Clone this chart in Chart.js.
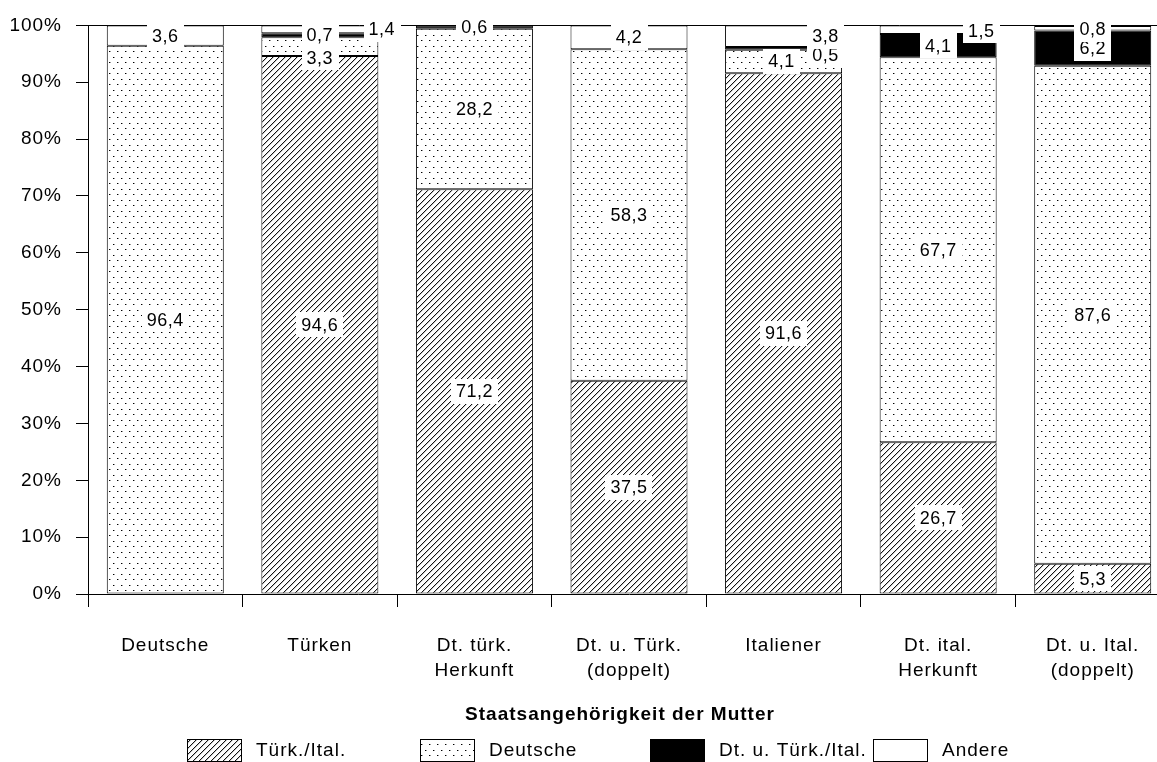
<!DOCTYPE html>
<html>
<head>
<meta charset="utf-8">
<script src="https://cdn.jsdelivr.net/npm/chart.js@4.4.0/dist/chart.umd.min.js"></script>
<style>
html,body{margin:0;padding:0;overflow:hidden;background:#fff;}
#wrap{width:1172px;height:762px;}
</style>
</head>
<body>
<div id="wrap"><canvas id="c" width="1172" height="762"></canvas></div>
<script>
// ---- data ----
const categories = [["Deutsche"],["Türken"],["Dt. türk.","Herkunft"],["Dt. u. Türk.","(doppelt)"],["Italiener"],["Dt. ital.","Herkunft"],["Dt. u. Ital.","(doppelt)"]];
const seriesNames = ["Türk./Ital.","Deutsche","Dt. u. Türk./Ital.","Andere"];
const turkItal = [0, 94.6, 71.2, 37.5, 91.6, 26.7, 5.3];
const deutsche = [96.4, 3.3, 28.2, 58.3, 4.1, 67.7, 87.6];
const dtUTurkItal = [0, 0.7, 0.6, 0, 0.5, 4.1, 6.2];
const andere = [3.6, 1.4, 0, 4.2, 3.8, 1.5, 0.8];
const yTickValues = [0,10,20,30,40,50,60,70,80,90,100];
const axisTitle = "Staatsangehörigkeit der Mutter";

// ---- styling ----
const FONT = "'Liberation Sans', Arial, sans-serif";
const canvas = document.getElementById('c');
const ctx = canvas.getContext('2d');

function hatchPattern(){
  const n=6;
  const t=document.createElement('canvas'); t.width=n; t.height=n;
  const g=t.getContext('2d');
  g.fillStyle='#fff'; g.fillRect(0,0,n,n);
  for(let k=0;k<n;k++){
    g.fillStyle='#111';
    g.fillRect(k,n-1-k,1,1);
    g.fillStyle='#c8c8c8';
    g.fillRect((k+1)%n,n-1-k,1,1);
  }
  return ctx.createPattern(t,'repeat');
}
function dotPattern(){
  const t=document.createElement('canvas'); t.width=8; t.height=11;
  const g=t.getContext('2d');
  g.fillStyle='#fff'; g.fillRect(0,0,8,11);
  g.fillStyle='#000';
  g.fillRect(1,2,1,1);
  g.fillRect(5,7,1,1);
  g.fillStyle='#9a9a9a';
  g.fillRect(2,2,1,1);
  g.fillRect(6,7,1,1);
  return ctx.createPattern(t,'repeat');
}
const fills = [hatchPattern(), dotPattern(), '#000', '#fff'];
const seriesData = [turkItal, deutsche, dtUTurkItal, andere];

// label nudges for thin segments: key "dataset-index"
const labelNudge = {
  "1-1":{dx:0,dy:11},
  "3-1":{dx:62,dy:0},
  "1-4":{dx:-2,dy:0},
  "2-4":{dx:42,dy:7},
  "3-4":{dx:42,dy:0},
  "3-5":{dx:43,dy:1},
  "3-6":{dx:0,dy:1}
};

const spacingPlugin = {
  id:'spacing',
  beforeDraw(chart){ chart.ctx.letterSpacing='1px'; }
};

const labelPlugin = {
  id:'segLabels',
  afterDatasetsDraw(chart){
    const c=chart.ctx;
    c.save();
    c.letterSpacing='0.5px';
    c.font="18px "+FONT;
    c.textAlign='center';
    c.textBaseline='middle';
    chart.data.datasets.forEach((ds,di)=>{
      const meta=chart.getDatasetMeta(di);
      meta.data.forEach((el,i)=>{
        const v=ds.data[i];
        if(!v) return;
        const n=labelNudge[di+"-"+i]||{dx:0,dy:0};
        const x=el.x+n.dx;
        const y=(el.y+el.base)/2+n.dy;
        const txt=v.toFixed(1).replace('.',',');
        const w=c.measureText(txt).width;
        c.fillStyle='#fff';
        c.fillRect(Math.round(x-w/2-5), Math.round(y-12.5), Math.round(w+10), 25);
        c.fillStyle='#000';
        c.fillText(txt,x,y+1);
      });
    });
    c.restore();
  }
};

const legendPlugin = {
  id:'customLegend',
  afterDraw(chart){
    const c=chart.ctx;
    c.save();
    c.letterSpacing='1px';
    c.fillStyle='#000';
    c.font="bold 19px "+FONT;
    c.textAlign='center';
    c.textBaseline='middle';
    c.fillText(axisTitle,620,715);
    const starts=[187,420,650,873];
    c.font="19px "+FONT;
    c.textAlign='left';
    seriesNames.forEach((name,i)=>{
      const x=starts[i], y=739;
      c.fillStyle=fills[i];
      c.fillRect(x,y,54,22);
      c.strokeStyle='#000'; c.lineWidth=1;
      c.strokeRect(x+0.5,y+0.5,54,22);
      c.fillStyle='#000';
      c.fillText(name,x+69,y+12);
    });
    c.restore();
  }
};

new Chart(ctx,{
  type:'bar',
  data:{
    labels:categories,
    datasets:seriesNames.map((name,i)=>({
      label:name,
      data:seriesData[i],
      backgroundColor:fills[i],
      borderColor:'#000',
      borderWidth:1,
      borderSkipped:false,
      categoryPercentage:1,
      barPercentage:0.757
    }))
  },
  options:{
    responsive:false,
    animation:false,
    layout:{padding:{top:22,right:2,left:0,bottom:0}},
    plugins:{legend:{display:false},tooltip:{enabled:false}},
    scales:{
      x:{
        stacked:true,
        grid:{display:true,drawOnChartArea:false,drawTicks:true,tickLength:13,color:'#000',offset:true},
        border:{color:'#000',width:1},
        ticks:{color:'#000',font:{family:FONT,size:19,lineHeight:1.32},padding:26,maxRotation:0,minRotation:0,autoSkip:false},
        afterFit(s){ s.height=168; }
      },
      y:{
        stacked:true,
        min:0,max:100,
        afterBuildTicks(s){ s.ticks=yTickValues.map(v=>({value:v})); },
        ticks:{color:'#000',font:{family:FONT,size:19},padding:14,callback:v=>v+'%'},
        grid:{drawOnChartArea:true,color:c=>(c.tick&&c.tick.value===100)?'#000':'rgba(0,0,0,0)',tickColor:'#000',tickLength:12},
        border:{color:'#000',width:1},
        afterFit(s){ s.width=88; }
      }
    }
  },
  plugins:[spacingPlugin,labelPlugin,legendPlugin]
});
</script>
</body>
</html>
